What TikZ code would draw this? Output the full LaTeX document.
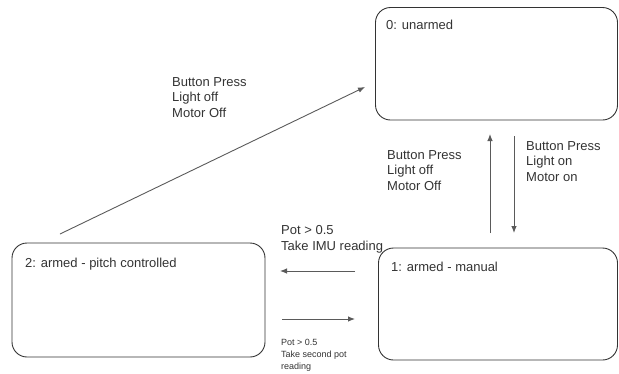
\documentclass[tikz,border=0pt]{standalone}
\usepackage{fontspec}
\setmainfont{Liberation Sans}
\usetikzlibrary{arrows.meta}
\definecolor{txt}{HTML}{333333}
\definecolor{edge}{HTML}{5A5A5A}
\definecolor{boxc}{HTML}{333333}
\tikzset{
  statebox/.style={draw=boxc, line width=0.9pt, rounded corners=15pt, rectangle, inner sep=0pt},
  conn/.style={draw=edge, line width=0.9pt, -{Latex[length=7pt,width=5.5pt]}},
  lbl/.style={anchor=north west, inner sep=0pt, align=left, text=txt, font=\fontsize{13pt}{15.5pt}\selectfont},
  small/.style={anchor=north west, inner sep=0pt, align=left, text=txt, font=\fontsize{9pt}{12pt}\selectfont}
}
\begin{document}
\begin{tikzpicture}[x=1pt,y=-1pt]
\useasboundingbox (0,0) rectangle (619,373);
\node[statebox, minimum width=242pt, minimum height=112.5pt] (s0) at (496.5,63.75) {};
\node[statebox, minimum width=239pt, minimum height=112pt] (s1) at (498,304) {};
\node[statebox, minimum width=253pt, minimum height=114pt] (s2) at (138.5,300) {};
\node[lbl] (t0) at (386,20.3) {0: unarmed};
\node[lbl] (t1) at (391,262.3) {1: armed - manual};
\node[lbl] (t2) at (25,258.3) {2: armed - pitch controlled};

\coordinate (d1) at (60,234);
\coordinate (d2) at (365,87);
\coordinate (u1) at (490,233);
\coordinate (u2) at (490,134);
\coordinate (w1) at (514,136);
\coordinate (w2) at (514,233);
\coordinate (l1) at (355,271);
\coordinate (l2) at (280,271);
\coordinate (r1) at (282,319);
\coordinate (r2) at (355,319);

\draw[conn] (d1) -- (d2);
\draw[conn] (u1) -- (u2);
\draw[conn] (w1) -- (w2);
\draw[conn] (l1) -- (l2);
\draw[conn] (r1) -- (r2);

\node[lbl] (a) at (172,77.3) {Button Press\\Light off\\Motor Off};
\node[lbl] (b) at (387,150.3) {Button Press\\Light off\\Motor Off};
\node[lbl] (c) at (526,141.3) {Button Press\\Light on\\Motor on};
\node[lbl] (d) at (281,225.3) {Pot > 0.5\\Take IMU reading};
\node[small] (e) at (281,338.8) {Pot > 0.5\\Take second pot\\reading};
\end{tikzpicture}
\end{document}
